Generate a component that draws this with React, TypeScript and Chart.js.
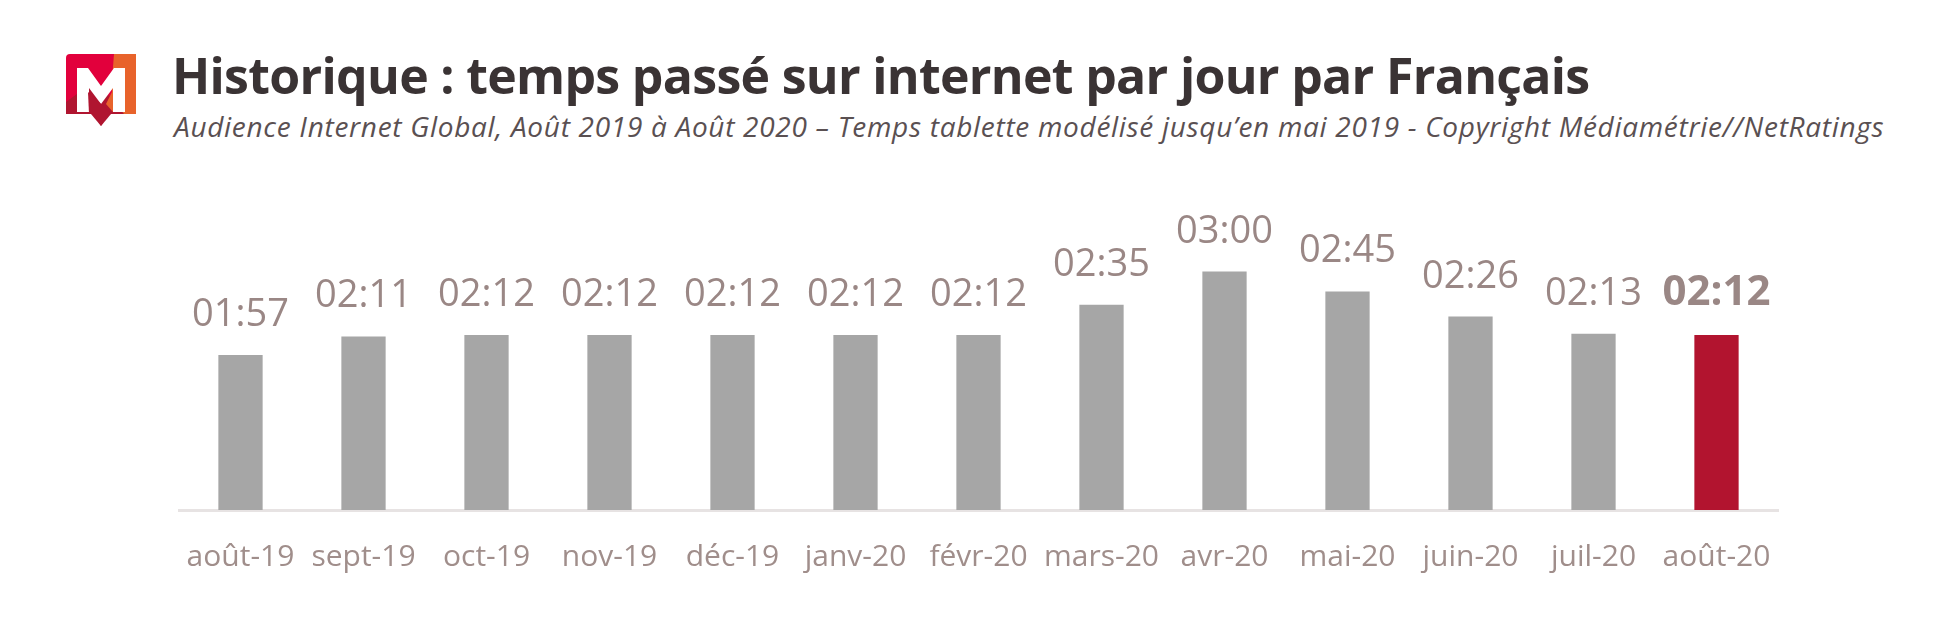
import React, { useEffect, useRef } from "react";
import { Chart, registerables } from "chart.js";

Chart.register(...registerables);

const categories = [
  "août-19", "sept-19", "oct-19", "nov-19", "déc-19", "janv-20", "févr-20",
  "mars-20", "avr-20", "mai-20", "juin-20", "juil-20", "août-20",
];
// minutes per day
const minutesPerDay = [117, 131, 132, 132, 132, 132, 132, 155, 180, 165, 146, 133, 132];
const highlightIndex = 12;

const TITLE = "Historique : temps passé sur internet par jour par Français";
const SUBTITLE =
  "Audience Internet Global, Août 2019 à Août 2020 – Temps tablette modélisé jusqu’en mai 2019 - Copyright Médiamétrie//NetRatings";

const GREY = "#a6a6a6";
const RED = "#b2142f";
const LABEL_COLOR = "#9a8785";
const TICK_COLOR = "#a08e8b";

function fmt(m: number) {
  const h = Math.floor(m / 60);
  const mm = m % 60;
  return String(h).padStart(2, "0") + ":" + String(mm).padStart(2, "0");
}

const valueLabels = {
  id: "valueLabels",
  afterDatasetsDraw(chart: any) {
    const ctx = chart.ctx;
    const meta = chart.getDatasetMeta(0);
    ctx.save();
    ctx.textAlign = "center";
    ctx.textBaseline = "alphabetic";
    ctx.fillStyle = LABEL_COLOR;
    meta.data.forEach((bar: any, i: number) => {
      const v = chart.data.datasets[0].data[i] as number;
      const bold = i === highlightIndex;
      ctx.font = bold ? "bold 42px 'Open Sans'" : "38px 'Open Sans'";
      ctx.fillText(fmt(v), bar.x, bar.y - (bold ? 30 : 29));
    });
    ctx.restore();
  },
};

function Logo() {
  return (
    <svg
      width={70}
      height={80}
      viewBox="0 0 70 80"
      style={{ position: "absolute", left: 66, top: 54 }}
    >
      <rect x={0} y={0} width={70} height={60} rx={4} fill="#e2003c" />
      <polygon points="48,0 70,0 70,60 46,60 46,26" fill="#e8632b" />
      <polygon points="0,60 0,48 30,26 58,60 42,60 35,72 28,60" fill="#b01530" />
      <polygon
        points="11,14 22,14 35,32 48,14 59,14 59,58 47,58 47,34 35,50 23,34 23,58 11,58"
        fill="#ffffff"
      />
      <polygon points="22,38 46,60 23,60" fill="#b01530" />
      <polygon points="47,36 47,58 40,50" fill="#e8632b" />
      <polygon points="25,60 45,60 35,72" fill="#b01530" />
    </svg>
  );
}

export default function App() {
  const canvasRef = useRef<HTMLCanvasElement | null>(null);

  useEffect(() => {
    if (!canvasRef.current) return;
    const chart = new Chart(canvasRef.current, {
      type: "bar",
      data: {
        labels: categories,
        datasets: [
          {
            data: minutesPerDay,
            backgroundColor: minutesPerDay.map((_, i) => (i === highlightIndex ? RED : GREY)),
            borderWidth: 0,
            barPercentage: 0.36,
            categoryPercentage: 1,
          },
        ],
      },
      options: {
        animation: false,
        responsive: false,
        devicePixelRatio: 1,
        layout: { padding: { left: 179, right: 162, top: 192, bottom: 16 } },
        plugins: { legend: { display: false }, tooltip: { enabled: false } },
        scales: {
          x: {
            grid: { display: false, drawTicks: false },
            border: { display: true, color: "#e7e3e3", width: 3 },
            ticks: {
              color: TICK_COLOR,
              padding: 29,
              font: { family: "'Open Sans'", size: 30 },
              maxRotation: 0,
              autoSkip: false,
            },
          },
          y: { display: false, min: 0, max: 240 },
        },
      },
      plugins: [valueLabels],
    });
    return () => chart.destroy();
  }, []);

  return (
    <div
      style={{
        position: "absolute",
        left: 0,
        top: 0,
        width: 1940,
        height: 620,
        background: "#ffffff",
        overflow: "hidden",
      }}
    >
      <Logo />
      <div
        style={{
          position: "absolute",
          left: 172,
          top: 50,
          fontFamily: "'Open Sans'",
          fontWeight: 700,
          fontSize: 50,
          lineHeight: "50px",
          color: "#3a3334",
          whiteSpace: "nowrap",
          letterSpacing: "-0.7px",
        }}
      >
        {TITLE}
      </div>
      <div
        style={{
          position: "absolute",
          left: 174,
          top: 112,
          fontFamily: "'Open Sans'",
          fontStyle: "italic",
          fontSize: 28,
          lineHeight: "28px",
          color: "#5a5052",
          whiteSpace: "nowrap",
          letterSpacing: "0.7px",
        }}
      >
        {SUBTITLE}
      </div>
      <canvas
        ref={canvasRef}
        width={1940}
        height={620}
        style={{ position: "absolute", left: 0, top: 0, width: 1940, height: 620 }}
      />
    </div>
  );
}
